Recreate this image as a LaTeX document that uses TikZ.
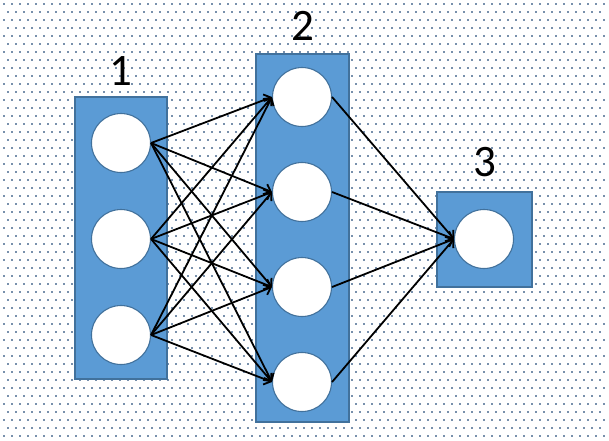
\documentclass[tikz,border=0pt]{standalone}
\usepackage{fontspec}
\setmainfont{Carlito}
\usetikzlibrary{arrows.meta,positioning}
\definecolor{boxblue}{HTML}{5B9BD5}
\definecolor{boxline}{HTML}{41719C}
\definecolor{dotgray}{HTML}{7890AC}
\begin{document}
\begin{tikzpicture}[x=1pt,y=-1pt,
	layer/.style={rectangle,draw=boxline,fill=boxblue,line width=1.6pt,inner sep=0pt},
	neuron/.style={circle,draw=boxline,fill=white,line width=1.1pt,minimum size=59pt,inner sep=0pt},
	num/.style={font=\fontsize{45}{54}\selectfont,inner sep=0pt},
	link/.style={-{Straight Barb[length=6pt,width=11pt]},line width=1.8pt,black}]
	\useasboundingbox (0,0) rectangle (609,440);
	\fill[white] (0,0) rectangle (609,440);
	% dotted background
	\foreach \y in {4,20,...,436}
		\foreach \x in {4,12,...,604}
			\fill[dotgray] (\x-0.6,\y-0.6) rectangle ++(1.2,1.2);
	\foreach \y in {12,28,...,436}
		\foreach \x in {8,16,...,604}
			\fill[dotgray] (\x-0.6,\y-0.6) rectangle ++(1.2,1.2);
	% layers
	\node [layer,minimum width=92pt,minimum height=282pt] (l1) at (121,238) {};
	\node [layer,minimum width=93pt,minimum height=368pt] (l2) at (302.5,238) {};
	\node [layer,minimum width=95pt,minimum height=95pt] (l3) at (484.5,239.5) {};
	\node [num,above=11pt of l1] (n1) {1};
	\node [num,above=13pt of l2] (n2) {2};
	\node [num,above=14pt of l3] (n3) {3};
	% neurons
	\node [neuron] (a1) at (121,143) {};
	\node [neuron] (a2) at (121,239) {};
	\node [neuron] (a3) at (121,335) {};
	\node [neuron] (b1) at (302,97) {};
	\node [neuron] (b2) at (302,192) {};
	\node [neuron] (b3) at (302,287) {};
	\node [neuron] (b4) at (302,382) {};
	\node [neuron] (c1) at (484,239) {};
	% connections
	\foreach \i in {1,2,3}
		\foreach \j in {1,2,3,4}
			\draw [link] (a\i.east) -- (b\j.west);
	\foreach \j in {1,2,3,4}
		\draw [link] (b\j.east) -- (c1.west);
\end{tikzpicture}
\end{document}
